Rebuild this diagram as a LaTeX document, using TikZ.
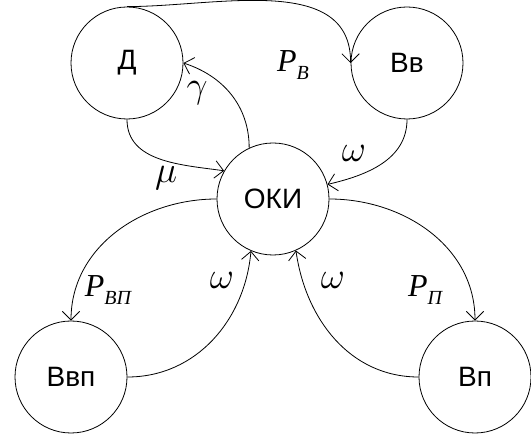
\documentclass[tikz,border=0pt]{standalone}
\usepackage{fix-cm}
\usepackage{fontspec}
\setmainfont{Liberation Sans}
\newfontfamily\ratefont{Liberation Serif}
\usetikzlibrary{arrows.meta}

\tikzset{bubble/.style={circle,draw,line width=0.6pt,minimum size=84pt,inner sep=0pt,font=\fontsize{21}{24}\selectfont},
         flow/.style={-{Straight Barb[length=6.5pt,width=13pt]},line width=0.6pt},
         rate/.style={inner sep=0pt,font=\fontsize{24}{26}\selectfont\ratefont\itshape},
         greek/.style={rate,font=\fontsize{28}{30}\selectfont}}
\newcommand{\psub}[1]{P\raisebox{-5.5pt}{\fontsize{15}{16}\selectfont #1}}

\begin{document}
\begin{tikzpicture}[x=0.75pt,y=0.75pt]
                  \useasboundingbox (0,0) rectangle (531,435);
                  % states
                  \node[bubble] (D)   at (127,372) {Д};
                  \node[bubble] (Vv)  at (407,372) {Вв};
                  \node[bubble] (OKI) at (273,236) {ОКИ};
                  \node[bubble] (Vvp) at (71,58)   {Ввп};
                  \node[bubble] (Vp)  at (475,58)  {Вп};
                  % transitions
                  \draw[flow] (D.north) to[out=0,in=90] (Vv.west);
                  \draw[flow] (OKI.115) to[out=90,in=-18] (D.east);
                  \draw[flow] (D.south) to[out=-90,in=172] (OKI.150);
                  \draw[flow] (Vv.south) to[out=-90,in=13] (OKI.15);
                  \draw[flow] (OKI.west) to[out=180,in=90] (Vvp.north);
                  \draw[flow] (Vvp.east) to[out=0,in=-95] (OKI.247);
                  \draw[flow] (OKI.east) to[out=0,in=90] (Vp.north);
                  \draw[flow] (Vp.west) to[out=180,in=-82] (OKI.294);
                  % rates
                  \node[rate]  (pB)  at (293,370) {\psub{В}};
                  \node[greek] (gam) at (197,342) {$\gamma$};
                  \node[greek] (mu)  at (166,257) {$\mu$};
                  \node[greek] (w1)  at (354,282) {$\omega$};
                  \node[rate]  (pVP) at (108,145) {\psub{ВП}};
                  \node[greek] (w2)  at (222,155) {$\omega$};
                  \node[greek] (w3)  at (333,155) {$\omega$};
                  \node[rate]  (pP)  at (425,145) {\psub{П}};
              \end{tikzpicture}
\end{document}
